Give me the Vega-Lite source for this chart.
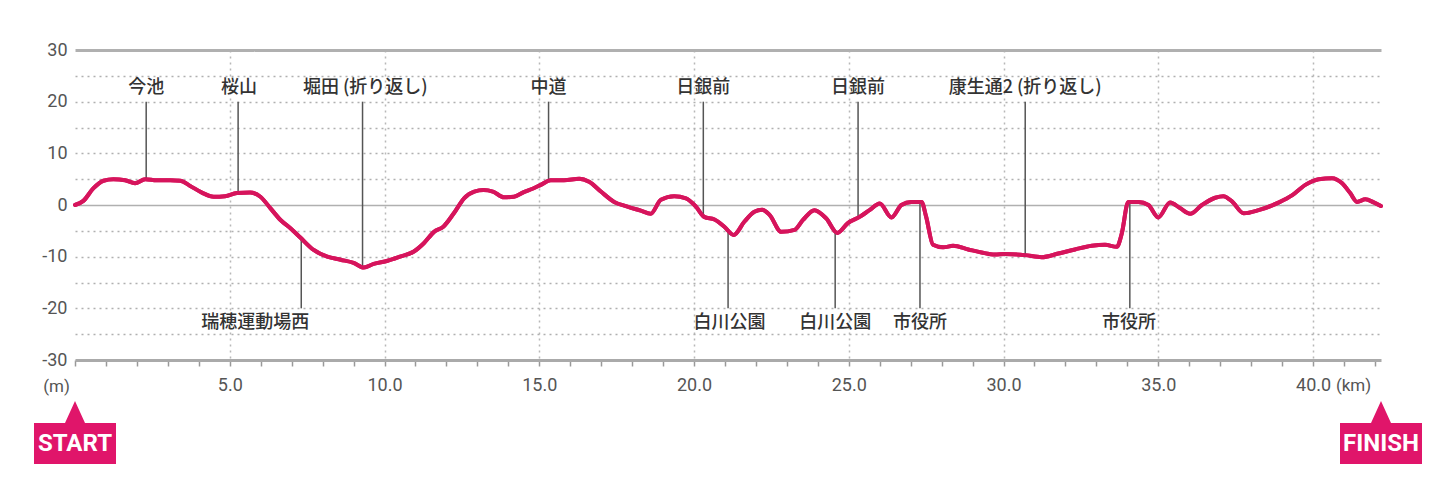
{
  "$schema": "https://vega.github.io/schema/vega-lite/v6.json",
  "autosize": {"type": "none"},
  "width": 1306,
  "height": 310,
  "padding": {"left": 75, "top": 50, "right": 55, "bottom": 137},
  "background": "white",
  "config": {"view": {"stroke": null}},
  "datasets": {
    "profile": [
      {"km": 0, "elev": 0}, {"km": 0.27, "elev": 0.8}, {"km": 0.59, "elev": 3.2}, {"km": 0.92, "elev": 4.7},
      {"km": 1.24, "elev": 5.0}, {"km": 1.62, "elev": 4.8}, {"km": 1.94, "elev": 4.2}, {"km": 2.27, "elev": 5.0},
      {"km": 2.64, "elev": 4.8}, {"km": 3.07, "elev": 4.8}, {"km": 3.4, "elev": 4.7}, {"km": 3.72, "elev": 3.7},
      {"km": 4.1, "elev": 2.4}, {"km": 4.48, "elev": 1.6}, {"km": 4.85, "elev": 1.7}, {"km": 5.23, "elev": 2.3},
      {"km": 5.66, "elev": 2.4}, {"km": 5.99, "elev": 1.6}, {"km": 6.31, "elev": -0.6}, {"km": 6.64, "elev": -2.9},
      {"km": 6.96, "elev": -4.5}, {"km": 7.28, "elev": -6.3}, {"km": 7.71, "elev": -8.7}, {"km": 8.15, "elev": -10.0},
      {"km": 8.58, "elev": -10.6}, {"km": 9.0, "elev": -11.2}, {"km": 9.33, "elev": -12.1}, {"km": 9.65, "elev": -11.4},
      {"km": 10.1, "elev": -10.8}, {"km": 10.5, "elev": -10.0}, {"km": 10.95, "elev": -9.0}, {"km": 11.27, "elev": -7.4},
      {"km": 11.6, "elev": -5.2}, {"km": 11.9, "elev": -4.2}, {"km": 12.24, "elev": -1.6}, {"km": 12.57, "elev": 1.3},
      {"km": 12.9, "elev": 2.6}, {"km": 13.2, "elev": 2.9}, {"km": 13.5, "elev": 2.6}, {"km": 13.86, "elev": 1.5},
      {"km": 14.18, "elev": 1.6}, {"km": 14.5, "elev": 2.5}, {"km": 14.8, "elev": 3.2}, {"km": 15.05, "elev": 3.9},
      {"km": 15.37, "elev": 4.8}, {"km": 15.8, "elev": 4.8}, {"km": 16.29, "elev": 5.1}, {"km": 16.61, "elev": 4.5},
      {"km": 16.99, "elev": 2.6}, {"km": 17.42, "elev": 0.6}, {"km": 17.85, "elev": -0.3}, {"km": 18.28, "elev": -1.1},
      {"km": 18.6, "elev": -1.7}, {"km": 18.93, "elev": 1.0}, {"km": 19.36, "elev": 1.7}, {"km": 19.74, "elev": 1.3},
      {"km": 20.06, "elev": -0.3}, {"km": 20.33, "elev": -2.3}, {"km": 20.66, "elev": -2.8}, {"km": 20.98, "elev": -4.2},
      {"km": 21.28, "elev": -5.8}, {"km": 21.63, "elev": -3.2}, {"km": 21.95, "elev": -1.3}, {"km": 22.2, "elev": -0.9},
      {"km": 22.44, "elev": -1.9}, {"km": 22.82, "elev": -5.2}, {"km": 23.25, "elev": -4.8}, {"km": 23.52, "elev": -2.9},
      {"km": 23.89, "elev": -1.0}, {"km": 24.27, "elev": -2.6}, {"km": 24.63, "elev": -5.4}, {"km": 24.97, "elev": -3.5},
      {"km": 25.35, "elev": -2.3}, {"km": 25.67, "elev": -1.0}, {"km": 26.0, "elev": 0.3}, {"km": 26.38, "elev": -2.4},
      {"km": 26.7, "elev": 0.0}, {"km": 27.02, "elev": 0.6}, {"km": 27.35, "elev": 0.6}, {"km": 27.5, "elev": -2.3},
      {"km": 27.72, "elev": -7.7}, {"km": 28.05, "elev": -8.2}, {"km": 28.37, "elev": -7.9}, {"km": 28.86, "elev": -8.6},
      {"km": 29.29, "elev": -9.2}, {"km": 29.72, "elev": -9.6}, {"km": 30.04, "elev": -9.5}, {"km": 30.69, "elev": -9.7},
      {"km": 31.23, "elev": -10.1}, {"km": 31.77, "elev": -9.4}, {"km": 32.31, "elev": -8.6}, {"km": 32.85, "elev": -7.9},
      {"km": 33.28, "elev": -7.7}, {"km": 33.66, "elev": -8.1}, {"km": 33.82, "elev": -5.5}, {"km": 34.03, "elev": 0.6},
      {"km": 34.36, "elev": 0.6}, {"km": 34.68, "elev": 0.0}, {"km": 35.0, "elev": -2.4}, {"km": 35.38, "elev": 0.5},
      {"km": 35.7, "elev": -0.6}, {"km": 36.03, "elev": -1.7}, {"km": 36.41, "elev": 0.0}, {"km": 36.84, "elev": 1.4},
      {"km": 37.1, "elev": 1.7}, {"km": 37.38, "elev": 0.7}, {"km": 37.76, "elev": -1.6}, {"km": 38.24, "elev": -1.0},
      {"km": 38.9, "elev": 0.5}, {"km": 39.33, "elev": 1.9}, {"km": 39.75, "elev": 3.9}, {"km": 40.18, "elev": 5.0},
      {"km": 40.61, "elev": 5.2}, {"km": 40.94, "elev": 4.2}, {"km": 41.2, "elev": 2.3}, {"km": 41.42, "elev": 0.6},
      {"km": 41.69, "elev": 1.1}, {"km": 41.96, "elev": 0.5}, {"km": 42.195, "elev": -0.2}
    ],
    "points": [
      {"name": "今池", "km": 2.3, "text_km": 2.3, "elev": 5.0, "side": "top"},
      {"name": "桜山", "km": 5.27, "text_km": 5.3, "elev": 2.3, "side": "top"},
      {"name": "堀田 (折り返し)", "km": 9.29, "text_km": 9.38, "elev": -12.0, "side": "top"},
      {"name": "中道", "km": 15.3, "text_km": 15.3, "elev": 4.7, "side": "top"},
      {"name": "日銀前", "km": 20.3, "text_km": 20.3, "elev": -2.2, "side": "top"},
      {"name": "日銀前", "km": 25.3, "text_km": 25.3, "elev": -2.4, "side": "top"},
      {"name": "康生通2 (折り返し)", "km": 30.7, "text_km": 30.7, "elev": -9.7, "side": "top"},
      {"name": "瑞穂運動場西", "km": 7.31, "text_km": 5.82, "elev": -6.6, "side": "bottom"},
      {"name": "白川公園", "km": 21.1, "text_km": 21.15, "elev": -5.3, "side": "bottom"},
      {"name": "白川公園", "km": 24.56, "text_km": 24.56, "elev": -5.3, "side": "bottom"},
      {"name": "市役所", "km": 27.3, "text_km": 27.3, "elev": 0.7, "side": "bottom"},
      {"name": "市役所", "km": 34.08, "text_km": 34.05, "elev": 0.6, "side": "bottom"}
    ],
    "ends": [
      {"label": "START", "km": 0},
      {"label": "FINISH", "km": 42.195}
    ]
  },
  "layer": [
    {
      "data": {"name": "profile"},
      "mark": {"type": "line", "color": "#d6145c", "strokeWidth": 4, "interpolate": "monotone", "strokeCap": "round", "strokeJoin": "round"},
      "encoding": {
        "x": {
          "field": "km", "type": "quantitative",
          "scale": {"domain": [0, 42.195], "nice": false, "zero": false},
          "axis": {
            "title": "(km)", "titleX": 1278, "titleY": 25, "titleAlign": "center", "titleBaseline": "middle",
            "titleFont": "Roboto", "titleFontSize": 17, "titleFontWeight": "normal", "titleColor": "#555555",
            "values": [0,1,2,3,4,5,6,7,8,9,10,11,12,13,14,15,16,17,18,19,20,21,22,23,24,25,26,27,28,29,30,31,32,33,34,35,36,37,38,39,40,41,42],
            "labelExpr": "datum.value % 5 === 0 && datum.value > 0 ? format(datum.value, '.1f') : ''",
            "labelOverlap": false, "labelFlush": false,
            "labelFont": "Roboto", "labelFontSize": 18, "labelColor": "#555555", "labelPadding": 10,
            "domain": true, "domainColor": "#aaaaaa", "domainWidth": 3,
            "ticks": true, "tickColor": "#999999", "tickSize": 6, "tickWidth": 1.5,
            "grid": true, "gridColor": "#b8b8b8", "gridDash": [2, 4], "gridWidth": 1.5,
            "gridOpacity": {"condition": {"test": "datum.value % 5 === 0 && datum.value > 0", "value": 1}, "value": 0}
          }
        },
        "y": {
          "field": "elev", "type": "quantitative",
          "scale": {"domain": [-30, 30], "nice": false, "zero": false},
          "axis": {
            "title": "(m)", "titleAngle": 0, "titleX": -19, "titleY": 336, "titleAlign": "center", "titleBaseline": "middle",
            "titleFont": "Roboto", "titleFontSize": 17, "titleFontWeight": "normal", "titleColor": "#555555",
            "values": [-30,-25,-20,-15,-10,-5,0,5,10,15,20,25,30],
            "labelExpr": "datum.value % 10 === 0 ? toString(datum.value) : ''",
            "labelOverlap": false, "labelFlush": false,
            "labelFont": "Roboto", "labelFontSize": 18, "labelColor": "#555555", "labelPadding": 8,
            "domain": false, "ticks": false,
            "grid": true,
            "gridColor": "#b0b0b0",
            "gridDash": {"condition": {"test": "datum.value === 30 || datum.value === 0", "value": [1, 0]}, "value": [2, 4]},
            "gridWidth": {"condition": {"test": "datum.value === 30", "value": 3}, "value": 1.5},
            "gridOpacity": {"condition": {"test": "datum.value === -30", "value": 0}, "value": 1}
          }
        }
      }
    },
    {
      "data": {"name": "points"},
      "transform": [{"filter": "datum.side === 'top'"}],
      "mark": {"type": "rule", "color": "#555555", "strokeWidth": 1.5},
      "encoding": {
        "x": {"field": "km", "type": "quantitative", "axis": {"values": [0,1,2,3,4,5,6,7,8,9,10,11,12,13,14,15,16,17,18,19,20,21,22,23,24,25,26,27,28,29,30,31,32,33,34,35,36,37,38,39,40,41,42]}},
        "y": {"field": "elev", "type": "quantitative", "axis": {"values": [-30,-25,-20,-15,-10,-5,0,5,10,15,20,25,30]}},
        "y2": {"datum": 20}
      }
    },
    {
      "data": {"name": "points"},
      "transform": [{"filter": "datum.side === 'bottom'"}],
      "mark": {"type": "rule", "color": "#555555", "strokeWidth": 1.5},
      "encoding": {
        "x": {"field": "km", "type": "quantitative", "axis": {"values": [0,1,2,3,4,5,6,7,8,9,10,11,12,13,14,15,16,17,18,19,20,21,22,23,24,25,26,27,28,29,30,31,32,33,34,35,36,37,38,39,40,41,42]}},
        "y": {"field": "elev", "type": "quantitative", "axis": {"values": [-30,-25,-20,-15,-10,-5,0,5,10,15,20,25,30]}},
        "y2": {"datum": -20}
      }
    },
    {
      "data": {"name": "profile"},
      "mark": {"type": "line", "color": "#d6145c", "strokeWidth": 4, "interpolate": "monotone", "strokeCap": "round", "strokeJoin": "round"},
      "encoding": {
        "x": {"field": "km", "type": "quantitative", "axis": {"values": [0,1,2,3,4,5,6,7,8,9,10,11,12,13,14,15,16,17,18,19,20,21,22,23,24,25,26,27,28,29,30,31,32,33,34,35,36,37,38,39,40,41,42]}},
        "y": {"field": "elev", "type": "quantitative", "axis": {"values": [-30,-25,-20,-15,-10,-5,0,5,10,15,20,25,30]}}
      }
    },
    {
      "data": {"name": "points"},
      "transform": [{"filter": "datum.side === 'top'"}],
      "mark": {"type": "text", "font": "Noto Sans CJK JP", "fontSize": 18, "fontWeight": 500, "color": "#333333", "align": "center", "baseline": "middle"},
      "encoding": {
        "x": {"field": "text_km", "type": "quantitative", "axis": {"values": [0,1,2,3,4,5,6,7,8,9,10,11,12,13,14,15,16,17,18,19,20,21,22,23,24,25,26,27,28,29,30,31,32,33,34,35,36,37,38,39,40,41,42]}},
        "y": {"datum": 22.7, "axis": {"values": [-30,-25,-20,-15,-10,-5,0,5,10,15,20,25,30]}},
        "text": {"field": "name"}
      }
    },
    {
      "data": {"name": "points"},
      "transform": [{"filter": "datum.side === 'bottom'"}],
      "mark": {"type": "text", "font": "Noto Sans CJK JP", "fontSize": 18, "fontWeight": 500, "color": "#333333", "align": "center", "baseline": "middle"},
      "encoding": {
        "x": {"field": "text_km", "type": "quantitative", "axis": {"values": [0,1,2,3,4,5,6,7,8,9,10,11,12,13,14,15,16,17,18,19,20,21,22,23,24,25,26,27,28,29,30,31,32,33,34,35,36,37,38,39,40,41,42]}},
        "y": {"datum": -22.8, "axis": {"values": [-30,-25,-20,-15,-10,-5,0,5,10,15,20,25,30]}},
        "text": {"field": "name"}
      }
    },
    {
      "data": {"name": "ends"},
      "mark": {"type": "point", "shape": "M0,41 L10,63 L41,63 L41,104 L-41,104 L-41,63 L-10,63 Z", "size": 4, "filled": true, "fill": "#e0156a", "opacity": 1, "strokeWidth": 0, "clip": false},
      "encoding": {
        "x": {"field": "km", "type": "quantitative", "axis": {"values": [0,1,2,3,4,5,6,7,8,9,10,11,12,13,14,15,16,17,18,19,20,21,22,23,24,25,26,27,28,29,30,31,32,33,34,35,36,37,38,39,40,41,42]}},
        "y": {"datum": -30, "axis": {"values": [-30,-25,-20,-15,-10,-5,0,5,10,15,20,25,30]}}
      }
    },
    {
      "data": {"name": "ends"},
      "mark": {"type": "text", "font": "Roboto", "fontSize": 24, "fontWeight": "bold", "color": "white", "align": "center", "baseline": "middle", "dy": 84},
      "encoding": {
        "x": {"field": "km", "type": "quantitative", "axis": {"values": [0,1,2,3,4,5,6,7,8,9,10,11,12,13,14,15,16,17,18,19,20,21,22,23,24,25,26,27,28,29,30,31,32,33,34,35,36,37,38,39,40,41,42]}},
        "y": {"datum": -30, "axis": {"values": [-30,-25,-20,-15,-10,-5,0,5,10,15,20,25,30]}},
        "text": {"field": "label"}
      }
    }
  ]
}
